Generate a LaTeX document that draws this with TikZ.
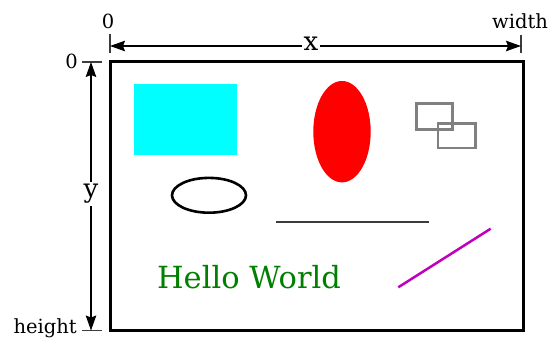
\documentclass[tikz,border=0pt]{standalone}
\usepackage{fontspec}
\setmainfont{DejaVu Serif}
\usetikzlibrary{arrows.meta}
\definecolor{hwgreen}{RGB}{0,128,0}
\definecolor{mag}{RGB}{191,0,191}
\definecolor{aqua}{RGB}{0,255,255}
\definecolor{midgray}{RGB}{128,128,128}
\definecolor{darkline}{RGB}{60,60,60}
\begin{document}
\begin{tikzpicture}[x=1pt,y=-1pt,
  dimarrow/.style={line width=1.1pt,{Stealth[length=15pt,width=10.5pt,inset=2pt]}-{Stealth[length=15pt,width=10.5pt,inset=2pt]}},
  tick/.style={line width=1.4pt,draw=darkline},
  smalllabel/.style={font=\fontsize{19.5}{22}\selectfont,inner sep=0pt},
  axislabel/.style={font=\fontsize{26}{28}\selectfont,fill=white,inner sep=2pt}]
\useasboundingbox (0,0) rectangle (550,339);
% frame
\draw[line width=3pt] (110,61.5) rectangle (523,330.7);
% cyan rectangle
\fill[aqua] (134,84) rectangle (237,155);
% red ellipse
\fill[red] (342,131.7) ellipse [x radius=28.7, y radius=50.7];
% grey rectangles
\draw[midgray,line width=2.5pt] (416.5,103.5) rectangle (452.5,129.5);
\draw[midgray,line width=2.5pt] (438,123.5) rectangle (475.5,148);
% black ellipse
\draw[line width=2.6pt] (209,195.3) ellipse [x radius=37, y radius=17.4];
% horizontal line
\coordinate (hl1) at (276,222);
\coordinate (hl2) at (429,222);
\draw[darkline,line width=1.4pt] (hl1) -- (hl2);
% magenta line
\coordinate (m1) at (398.3,287.3);
\coordinate (m2) at (490.7,228.7);
\draw[mag,line width=2.5pt] (m1) -- (m2);
% Hello World
\node[text=hwgreen,font=\fontsize{30.5}{33}\selectfont,inner sep=0pt,anchor=base] (hw) at (249,288.3) {Hello World};
% x dimension
\coordinate (xa) at (110,46);
\coordinate (xb) at (521,46);
\draw[tick] (110,34) -- (110,53);
\draw[tick] (521,35) -- (521,53);
\draw[dimarrow] (xa) -- (xb);
\node[axislabel] (xlab) at (311,44) {x};
\node[smalllabel,anchor=base] (x0) at (108,29) {0};
\node[smalllabel,anchor=base] (xw) at (520,29) {width};
% y dimension
\coordinate (ya) at (91,62);
\coordinate (yb) at (91,330.5);
\draw[tick] (82,62) -- (102,62);
\draw[tick] (82,330.5) -- (102,330.5);
\draw[dimarrow] (ya) -- (yb);
\node[axislabel] (ylab) at (91,194) {y};
\node[smalllabel,anchor=base east] (y0) at (78,69) {0};
\node[smalllabel,anchor=base east] (yh) at (77,334) {height};
\end{tikzpicture}
\end{document}
